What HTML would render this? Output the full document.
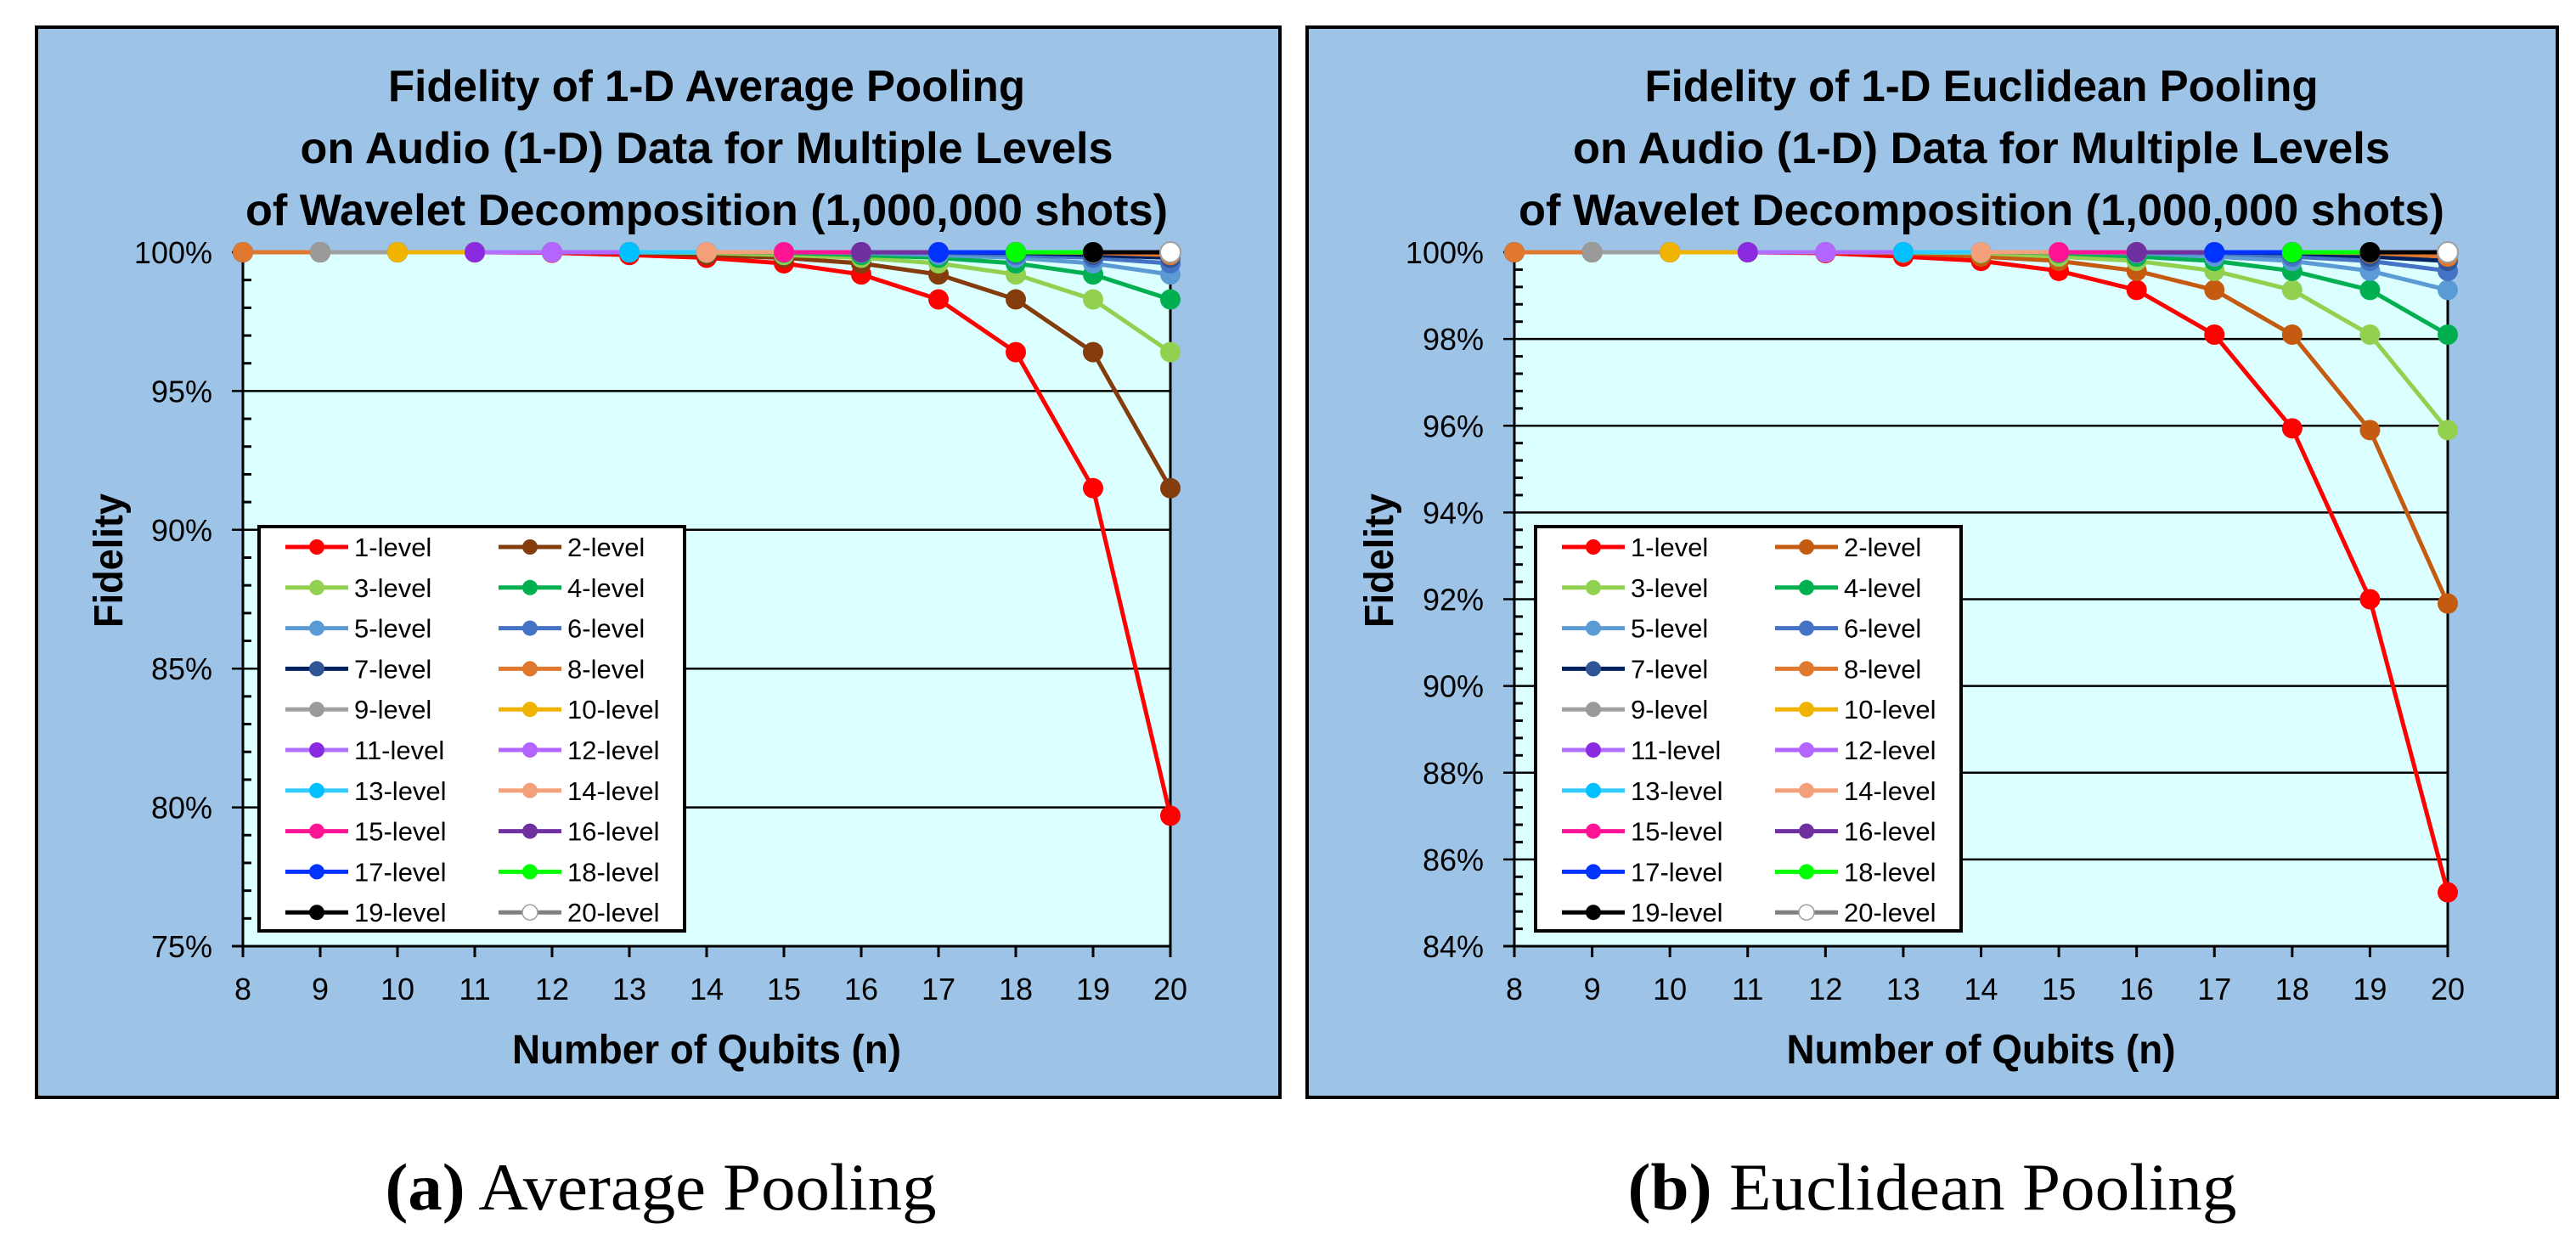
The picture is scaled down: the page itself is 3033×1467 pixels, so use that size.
<!DOCTYPE html>
<html><head><meta charset="utf-8"><style>
html,body{margin:0;padding:0;background:#fff;}
svg{display:block;}
.sans{font-family:"Liberation Sans",sans-serif;}
.serif{font-family:"Liberation Serif",serif;}
</style></head><body>
<svg id="fig" width="3033" height="1467" viewBox="0 0 3033 1467" xmlns="http://www.w3.org/2000/svg" font-family="Liberation Sans, sans-serif">
<g id="panelA"></g>
<g id="panelB"></g>
<text class="serif" x="778" y="1424" text-anchor="middle" font-size="78" textLength="649" lengthAdjust="spacingAndGlyphs"><tspan font-weight="bold">(a)</tspan> Average Pooling</text>
<text class="serif" x="2275" y="1424" text-anchor="middle" font-size="78" textLength="717" lengthAdjust="spacingAndGlyphs"><tspan font-weight="bold">(b)</tspan> Euclidean Pooling</text>
</svg>
<script>
const qubits = [8,9,10,11,12,13,14,15,16,17,18,19,20];
const levelNames = ["1-level","2-level","3-level","4-level","5-level","6-level","7-level","8-level","9-level","10-level","11-level","12-level","13-level","14-level","15-level","16-level","17-level","18-level","19-level","20-level"];
// Average pooling fidelity (%), per level, values for n = 8..20
const avgLevel1 = [100,100,100,100,99.98,99.9,99.8,99.6,99.2,98.3,96.4,91.5,79.7];
const avgLevel2 = [100,100,100,100,100,99.98,99.9,99.8,99.6,99.2,98.3,96.4,91.5];
const avgLevel3 = [100,100,100,100,100,100,99.98,99.9,99.8,99.6,99.2,98.3,96.4];
const avgLevel4 = [100,100,100,100,100,100,100,99.98,99.9,99.8,99.6,99.2,98.3];
const avgLevel5 = [100,100,100,100,100,100,100,100,99.98,99.9,99.8,99.6,99.2];
const avgLevel6 = [100,100,100,100,100,100,100,100,100,99.98,99.9,99.8,99.6];
const avgLevel7 = [100,100,100,100,100,100,100,100,100,100,99.98,99.9,99.8];
const avgLevel8 = [100,100,100,100,100,100,100,100,100,100,100,99.98,99.9];
// Euclidean pooling fidelity (%)
const eucLevel1 = [100,100,100,100,99.98,99.9,99.8,99.57,99.13,98.1,95.94,92.0,85.24];
const eucLevel2 = [100,100,100,100,100,99.98,99.9,99.8,99.57,99.13,98.1,95.9,91.9];
const eucLevel3 = [100,100,100,100,100,100,99.98,99.9,99.8,99.57,99.13,98.1,95.9];
const eucLevel4 = [100,100,100,100,100,100,100,99.98,99.9,99.8,99.57,99.13,98.1];
const eucLevel5 = [100,100,100,100,100,100,100,100,99.98,99.9,99.8,99.57,99.13];
const eucLevel6 = [100,100,100,100,100,100,100,100,100,99.98,99.9,99.8,99.57];
const eucLevel7 = [100,100,100,100,100,100,100,100,100,100,99.98,99.9,99.8];
const eucLevel8 = [100,100,100,100,100,100,100,100,100,100,100,99.98,99.9];
const avgYTicks = [75,80,85,90,95,100];
const eucYTicks = [84,86,88,90,92,94,96,98,100];

function fullLevel(k){ return qubits.map(n => n >= k ? 100 : null); }
const avgSeries = [avgLevel1,avgLevel2,avgLevel3,avgLevel4,avgLevel5,avgLevel6,avgLevel7,avgLevel8];
const eucSeries = [eucLevel1,eucLevel2,eucLevel3,eucLevel4,eucLevel5,eucLevel6,eucLevel7,eucLevel8];
for(let k=9;k<=20;k++){ avgSeries.push(fullLevel(k)); eucSeries.push(fullLevel(k)); }

const lineColors = ["#ff0000",null,"#92d050","#00b050","#5b9bd5","#4472c4","#002060","#e07830","#a0a0a0","#f0b400","#b070ff","#b266ff","#33ccff","#f4a07a","#ff1493","#7030a0","#0033ff","#00ff00","#000000","#808080"];
const markColors = ["#ff0000",null,"#92d050","#00b050","#5b9bd5","#4472c4","#2f5597","#e07830","#9a9a9a","#f0b400","#8a2be2","#b266ff","#00c0ff","#f4a07a","#ff1493","#7030a0","#0033ff","#00ff00","#000000","#ffffff"];

const NS="http://www.w3.org/2000/svg";
function mk(parent,tag,attrs,txt){
  const e=document.createElementNS(NS,tag);
  for(const k in attrs) e.setAttribute(k,attrs[k]);
  if(txt!==undefined) e.textContent=txt;
  parent.appendChild(e); return e;
}

function drawPanel(g, cfg){
  const {bx0,bx1,px0,px1,yMin,yMax,ticks,minor,series,brown,titleLines,titleX,titleW,legX} = cfg;
  const py0=297, py1=1114;
  const xs = n => px0 + (n-8)*(px1-px0)/12;
  const ys = v => py0 + (yMax-v)*(py1-py0)/(yMax-yMin);
  let r;
  r=mk(g,'rect',{x:bx0,y:32,width:bx1-bx0,height:1260,fill:'#9dc3e6',stroke:'#000','stroke-width':4});
  
  
  r=mk(g,'rect',{x:px0,y:py0,width:px1-px0,height:py1-py0,fill:'#dcffff'});
  
  
  const tb=[119,192,265];
  titleLines.forEach((t,i)=>{
    const e=mk(g,'text',{class:'sans',x:titleX,y:tb[i],'text-anchor':'middle','font-size':52,'font-weight':'bold',textLength:titleW[i],lengthAdjust:'spacingAndGlyphs'},t);
    
    
  });
  for(let v=yMin+minor; v<yMax-1e-6; v+=minor){
    const y=ys(v);
    const isMajor = ticks.some(t=>Math.abs(t-v)<1e-6);
    if(!isMajor){ const t=mk(g,'line',{x1:px0,x2:px0+10,y1:y,y2:y,stroke:'#000','stroke-width':3});
      
       }
  }
  ticks.forEach(v=>{
    const y=ys(v);
    const l=mk(g,'line',{x1:px0-13,x2:px1,y1:y,y2:y,stroke:'#000','stroke-width':2.5});
    
    
    const t=mk(g,'text',{class:'sans',x:px0-36,y:y+13,'text-anchor':'end','font-size':36},v+'%');
    
    
  });
  let a=mk(g,'line',{x1:px0,x2:px0,y1:py0,y2:py1,stroke:'#000','stroke-width':3});
  
  
  a=mk(g,'line',{x1:px1,x2:px1,y1:py0,y2:py1+13,stroke:'#000','stroke-width':3});
  
  
  a=mk(g,'line',{x1:px0-13,x2:px1,y1:py1,y2:py1,stroke:'#000','stroke-width':3});
  
  
  qubits.forEach(n=>{
    const x=xs(n);
    const t=mk(g,'line',{x1:x,x2:x,y1:py1,y2:py1+13,stroke:'#000','stroke-width':3});
    
    
    const lb=mk(g,'text',{class:'sans',x:x,y:1177,'text-anchor':'middle','font-size':36},String(n));
    
    
  });
  let at=mk(g,'text',{class:'sans',x:(px0+px1)/2,y:1252,'text-anchor':'middle','font-size':48,'font-weight':'bold',textLength:458,lengthAdjust:'spacingAndGlyphs'},'Number of Qubits (n)');
  
  
  const fx = bx0+83+18;
  at=mk(g,'text',{class:'sans',x:0,y:0,'text-anchor':'middle','font-size':48,'font-weight':'bold',textLength:158,lengthAdjust:'spacingAndGlyphs',transform:`translate(${fx},660) rotate(-90)`},'Fidelity');
  
  
  series.forEach((vals,i)=>{
    const lc = i===1?brown:lineColors[i], mc = i===1?brown:markColors[i];
    const sg=mk(g,'g',{});
    
    
    const pts=[]; qubits.forEach((n,j)=>{ if(vals[j]!==null) pts.push([xs(n),ys(vals[j])]); });
    const pl=mk(sg,'polyline',{points:pts.map(p=>p.join(',')).join(' '),fill:'none',stroke:lc,'stroke-width':5,'stroke-linejoin':'round'});
    
    
    pts.forEach(p=>{
      const c=mk(sg,'circle',{cx:p[0],cy:p[1],r:12,fill:mc,stroke:i===19?'#a0a0a0':'none','stroke-width':2});
      
      
    });
  });
  const lg=mk(g,'g',{});
  
  
  r=mk(lg,'rect',{x:legX,y:620,width:501,height:476,fill:'#fff',stroke:'#000','stroke-width':4});
  
  
  levelNames.forEach((nm,i)=>{
    const col=i%2, row=Math.floor(i/2);
    const lx=legX+31+col*251, ly=644+row*47.8;
    const lc = i===1?brown:lineColors[i], mc = i===1?brown:markColors[i];
    const e=mk(lg,'g',{});
    
    
    mk(e,'line',{x1:lx,x2:lx+74,y1:ly,y2:ly,stroke:lc,'stroke-width':5});
    mk(e,'circle',{cx:lx+37,cy:ly,r:9,fill:mc,stroke:i===19?'#a0a0a0':'none','stroke-width':1.5});
    mk(e,'text',{class:'sans',x:lx+81,y:ly+11,'font-size':31},nm);
  });
}

drawPanel(document.getElementById('panelA'),{
  bx0:43,bx1:1507,px0:286,px1:1378,yMin:75,yMax:100,ticks:avgYTicks,minor:1,series:avgSeries,brown:'#843c0c',
  titleLines:['Fidelity of 1-D Average Pooling','on Audio (1-D) Data for Multiple Levels','of Wavelet Decomposition (1,000,000 shots)'],
  titleX:832,titleW:[750,957,1086],legX:305});
drawPanel(document.getElementById('panelB'),{
  bx0:1539,bx1:3011,px0:1783,px1:2882,yMin:84,yMax:100,ticks:eucYTicks,minor:0.4,series:eucSeries,brown:'#c55a11',
  titleLines:['Fidelity of 1-D Euclidean Pooling','on Audio (1-D) Data for Multiple Levels','of Wavelet Decomposition (1,000,000 shots)'],
  titleX:2333,titleW:[793,962,1090],legX:1808});
</script>
</body></html>
